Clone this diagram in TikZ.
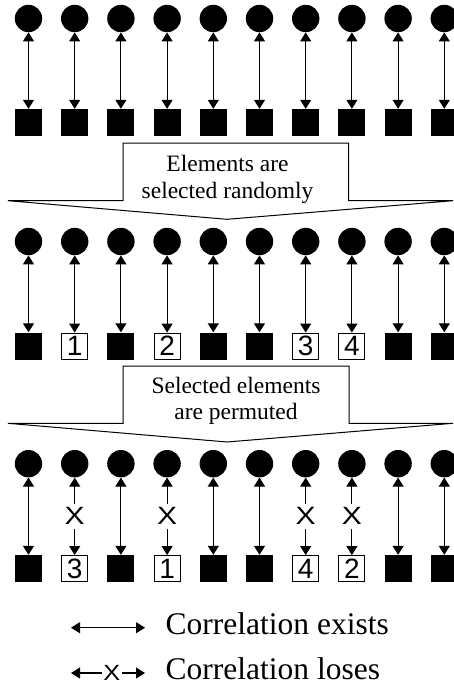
\documentclass[tikz,border=0pt]{standalone}
\usepackage{fontspec}
\setmainfont{Liberation Serif}
\newfontfamily\arialf{Liberation Sans}
\usetikzlibrary{arrows.meta}
\begin{document}
\begin{tikzpicture}[x=1pt,y=-1pt,
  circ/.style={circle,fill=black,minimum size=27.4pt,inner sep=0pt},
  blk/.style={rectangle,fill=black,minimum size=27pt,inner sep=0pt},
  num/.style={rectangle,draw=black,fill=white,line width=0.9pt,minimum size=26pt,inner sep=0pt,font=\arialf\fontsize{28}{28}\selectfont},
  tip/.tip={Triangle[width=11pt,length=9pt]},
  link/.style={tip-tip,line width=1.1pt},
  onelink/.style={-tip,line width=1.1pt},
  xmark/.style={fill=white,xscale=1.2,transform shape,inner xsep=0.5pt,inner ysep=4pt,font=\arialf\fontsize{25}{25}\selectfont},
  lxmark/.style={xscale=1.15,transform shape,inner xsep=1pt,inner ysep=0pt,font=\arialf\fontsize{22}{22}\selectfont},
  banner/.style={draw=black,line width=1pt,fill=white,line join=miter},
  btext/.style={anchor=base,inner sep=0pt,font=\fontsize{23.5}{27}\selectfont},
  ltext/.style={anchor=base west,inner sep=0pt,font=\fontsize{31.5}{34}\selectfont}
]
\clip (0,0) rectangle (454,686);
% Row 1
\foreach \i in {0,...,9}{
  \node[circ] (c1-\i) at ({28.5+46.2*\i},18.5) {};
  \node[blk] (s1-\i) at ({28.5+46.2*\i},122.5) {};
  \draw[link] (c1-\i) -- (s1-\i);
}
% Banner 1
\draw[banner] (123,143) -- (348.5,143) -- (348.5,200.7) -- (453,200.7) -- (227,219.3) -- (8,200.7) -- (123,200.7) -- cycle;
\node[btext] (b1a) at (227.5,171.7) {Elements are};
\node[btext] (b1b) at (227.5,198.2) {selected randomly};
% Row 2
\foreach \i/\st/\t in {0/blk/{},1/num/1,2/blk/{},3/num/2,4/blk/{},5/blk/{},6/num/3,7/num/4,8/blk/{},9/blk/{}}{
  \node[circ] (c2-\i) at ({28.5+46.2*\i},241.5) {};
  \node[\st] (s2-\i) at ({28.5+46.2*\i},346) {\t};
  \draw[link] (c2-\i) -- (s2-\i);
}
% Banner 2
\draw[banner] (123,366) -- (349,366) -- (349,423.3) -- (453,423.3) -- (227,442) -- (8,423.3) -- (123,423.3) -- cycle;
\node[btext] (b2a) at (236,393) {Selected elements};
\node[btext] (b2b) at (236,419.5) {are permuted};
% Row 3
\foreach \i/\st/\t in {0/blk/{},1/num/3,2/blk/{},3/num/1,4/blk/{},5/blk/{},6/num/4,7/num/2,8/blk/{},9/blk/{}}{
  \node[circ] (c3-\i) at ({28.5+46.2*\i},463.7) {};
  \node[\st] (s3-\i) at ({28.5+46.2*\i},568.5) {\t};
}
\foreach \i in {0,2,4,5,8,9}{
  \draw[link] (c3-\i) -- (s3-\i);
}
\foreach \i in {1,3,6,7}{
  \draw[link] (c3-\i) -- node[xmark] (x3-\i) {X} (s3-\i);
}
% Legend
\coordinate (la1) at (71,627.7);
\coordinate (lb1) at (145,627.7);
\draw[link] (la1) -- (lb1);
\node[ltext] (lt1) at (165.5,634.5) {Correlation exists};
\coordinate (la2) at (71,673);
\coordinate (lb2) at (145,673);
\node[lxmark] (lx) at (111.7,673) {X};
\draw[onelink] (lx) -- (la2);
\draw[onelink] (lx) -- (lb2);
\node[ltext] (lt2) at (165.5,679.5) {Correlation loses};
\end{tikzpicture}
\end{document}
